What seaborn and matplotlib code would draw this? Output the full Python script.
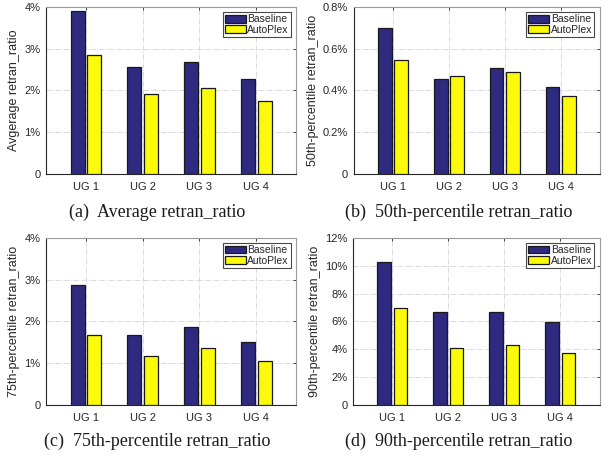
import pandas as pd
import matplotlib
matplotlib.use("Agg")
import matplotlib.pyplot as plt
import seaborn as sns
from matplotlib.ticker import FuncFormatter, MultipleLocator

groups = ["UG 1", "UG 2", "UG 3", "UG 4"]
methods = ["Baseline", "AutoPlex"]

# values in percent
avg_baseline = [3.90, 2.55, 2.69, 2.27]
avg_autoplex = [2.86, 1.91, 2.05, 1.74]
p50_baseline = [0.698, 0.453, 0.507, 0.418]
p50_autoplex = [0.548, 0.469, 0.486, 0.373]
p75_baseline = [2.87, 1.67, 1.87, 1.50]
p75_autoplex = [1.68, 1.17, 1.36, 1.05]
p90_baseline = [10.24, 6.71, 6.66, 5.97]
p90_autoplex = [6.99, 4.06, 4.32, 3.70]

y_labels = ["Avgerage retran_ratio", "50th-percentile retran_ratio",
            "75th-percentile retran_ratio", "90th-percentile retran_ratio"]
captions = ["(a)  Average retran_ratio", "(b)  50th-percentile retran_ratio",
            "(c)  75th-percentile retran_ratio", "(d)  90th-percentile retran_ratio"]
y_max = [4, 0.8, 4, 12]
y_step = [1, 0.2, 1, 2]

colors = {"Baseline": "#2e2a80", "AutoPlex": "#fafa0a"}


def pct(v, pos):
    if abs(v) < 1e-9:
        return "0"
    return f"{v:g}%"


def draw_panel(ax, base, auto, ylabel, ymax, step):
    df = pd.DataFrame({
        "group": groups * 2,
        "method": [methods[0]] * len(groups) + [methods[1]] * len(groups),
        "value": base + auto,
    })
    sns.barplot(data=df, x="group", y="value", hue="method", palette=colors,
                saturation=1, width=0.58, gap=0.15, edgecolor="#1a1a1a",
                linewidth=0.9, ax=ax, zorder=3)
    ax.set_xlim(-0.7, 3.7)
    ax.set_ylim(0, ymax)
    ax.yaxis.set_major_locator(MultipleLocator(step))
    ax.yaxis.set_major_formatter(FuncFormatter(pct))
    ax.set_axisbelow(True)
    ax.grid(True, color="#d4d4d4", linestyle="-.", linewidth=0.6)
    ax.set_xlabel("")
    ax.set_ylabel(ylabel, fontsize=9, color="#262626", labelpad=3)
    ax.tick_params(direction="in", length=2.5, width=0.6, top=True, right=True,
                   labelsize=8, labelcolor="#262626", pad=4)
    ax.tick_params(axis="x", pad=6)
    for side in ["left", "bottom"]:
        ax.spines[side].set_color("#262626")
        ax.spines[side].set_linewidth(0.8)
    for side in ["top", "right"]:
        ax.spines[side].set_color("#9a9a9a")
        ax.spines[side].set_linewidth(0.8)
    leg = ax.legend(loc="upper right", fontsize=7.5, frameon=True, fancybox=False,
                    edgecolor="#1a1a1a", handlelength=2.0, handleheight=0.8,
                    handletextpad=0.15, labelspacing=0.05, borderpad=0.2,
                    borderaxespad=0.5)
    leg.get_frame().set_linewidth(0.8)


sns.set_style("white")
plt.rcParams["font.family"] = ["Liberation Sans", "DejaVu Sans"]

fig = plt.figure(figsize=(6.1, 4.58), dpi=100)
positions = [
    [0.0754, 0.620, 0.410, 0.365],
    [0.580, 0.620, 0.403, 0.365],
    [0.0754, 0.1157, 0.410, 0.365],
    [0.579, 0.1157, 0.404, 0.365],
]
data = [
    (avg_baseline, avg_autoplex),
    (p50_baseline, p50_autoplex),
    (p75_baseline, p75_autoplex),
    (p90_baseline, p90_autoplex),
]
caption_xy = [(0.257, 0.537), (0.752, 0.537), (0.257, 0.037), (0.752, 0.037)]

for i in range(4):
    ax = fig.add_axes(positions[i])
    draw_panel(ax, data[i][0], data[i][1], y_labels[i], y_max[i], y_step[i])
    fig.text(caption_xy[i][0], caption_xy[i][1], captions[i], ha="center", va="center",
             fontsize=13, family=["Liberation Serif", "DejaVu Serif"], color="#1a1a1a")

fig.savefig("out.png", dpi=100)
plt.close(fig)
